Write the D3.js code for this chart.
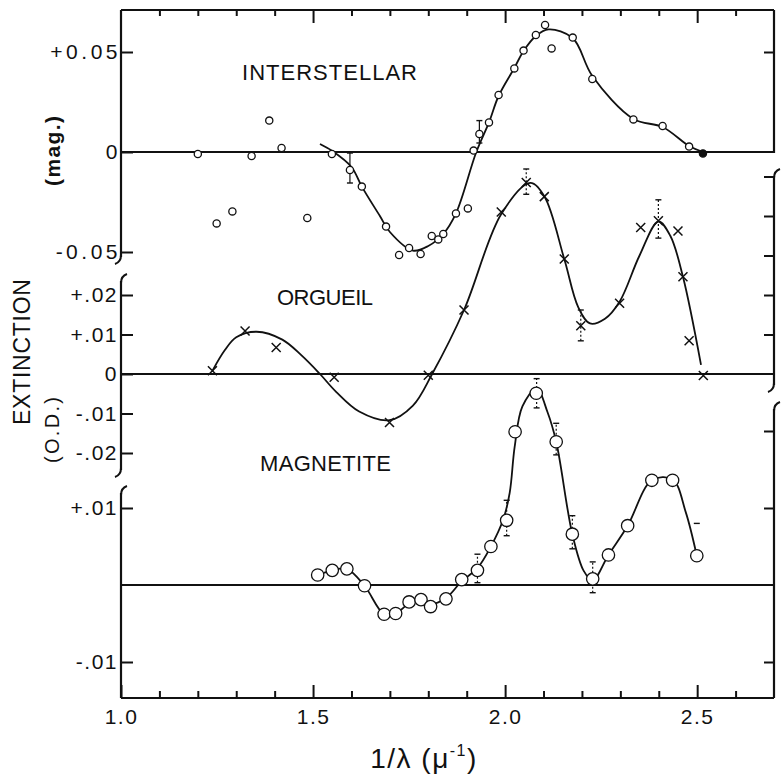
<!DOCTYPE html>
<html><head><meta charset="utf-8">
<script src="https://cdn.jsdelivr.net/npm/d3@7/dist/d3.min.js"></script>
<style>body{margin:0;background:#fff}</style>
</head><body>
<svg id="c" width="782" height="776"></svg>
<script>
// ---------------- DATA ----------------
const xMajorTicks = [1.0, 1.5, 2.0, 2.5];
const xTickLabels = ["1.0", "1.5", "2.0", "2.5"];
const xMinorTicks = [1.1,1.2,1.3,1.4,1.6,1.7,1.8,1.9,2.1,2.2,2.3,2.4,2.6];

const interTicks = [-0.05, 0, 0.05];
const interTickLabels = ["-0.05", "0", "+0.05"];
const interRightTicks = [0.05];
const orgTicks = [-0.02, -0.01, 0, 0.01, 0.02];
const orgTickLabels = ["-.02", "-.01", "0", "+.01", "+.02"];
const orgRightTicks = [0.01, 0.02, 0.03, 0.04, 0.05];
const magTicks = [-0.01, 0.01];
const magTickLabels = ["-.01", "+.01"];
const magRightTicks = [-0.01, 0.01, 0.02];

// Interstellar (mag.) observed points
const interPoints = [
  [1.20,-0.001],[1.249,-0.0357],[1.29,-0.0297],[1.34,-0.002],[1.386,0.0157],
  [1.418,0.002],[1.485,-0.033],[1.549,-0.001],[1.596,-0.009],[1.627,-0.0173],
  [1.69,-0.0373],[1.724,-0.0515],[1.75,-0.048],[1.78,-0.051],[1.809,-0.042],
  [1.826,-0.0437],[1.839,-0.041],[1.872,-0.0307],[1.903,-0.0282],[1.918,0.0007],
  [1.933,0.009],[1.958,0.0148],[1.983,0.0285],[2.024,0.0418],[2.048,0.0507],
  [2.08,0.0585],[2.104,0.0635],[2.121,0.0518],[2.176,0.0572],[2.227,0.0365],
  [2.334,0.0163],[2.41,0.013],[2.479,0.0027]
];
const interFilled = [[2.515,-0.0007]];
const interCurve = [
  [1.518,0.004],[1.55,0.0005],[1.60,-0.0075],[1.627,-0.0173],[1.674,-0.032],
  [1.70,-0.040],[1.76,-0.0493],[1.80,-0.047],[1.839,-0.041],[1.872,-0.0307],
  [1.925,0],[1.958,0.0148],[1.983,0.028],[2.024,0.042],[2.048,0.0505],
  [2.08,0.058],[2.113,0.0613],[2.176,0.057],[2.227,0.038],[2.334,0.0165],
  [2.41,0.0125],[2.479,0.003],[2.515,0]
];
const interErr = [[1.596,-0.0155,-0.0005],[1.933,0.0045,0.0157]];

// Orgueil (O.D.)
const orgPoints = [
  [1.238,0.0008],[1.323,0.0109],[1.404,0.0067],[1.555,-0.0008],[1.699,-0.0123],
  [1.80,-0.0003],[1.893,0.0162],[1.99,0.041],[2.055,0.0485],[2.102,0.0449],
  [2.154,0.0291],[2.197,0.0122],[2.298,0.0179],[2.353,0.0371],[2.399,0.0388],
  [2.45,0.0362],[2.463,0.0246],[2.479,0.0084],[2.516,-0.0004]
];
const orgCurve = [
  [1.238,0.0008],[1.27,0.006],[1.30,0.0093],[1.353,0.0107],[1.42,0.0087],
  [1.47,0.0047],[1.518,0],[1.56,-0.0045],[1.62,-0.0095],[1.699,-0.0117],
  [1.76,-0.008],[1.81,0],[1.893,0.0162],[1.99,0.0405],[2.065,0.0484],
  [2.102,0.045],[2.154,0.0291],[2.19,0.017],[2.221,0.0128],[2.26,0.014],
  [2.298,0.0183],[2.35,0.030],[2.399,0.0386],[2.43,0.035],[2.463,0.0246],
  [2.51,0.0023]
];
const orgErr = [[2.055,0.0455,0.0519],[2.197,0.0084,0.0162],[2.399,0.0344,0.0441]];

// Magnetite (O.D.)
const magPoints = [
  [1.512,0.0013],[1.55,0.0019],[1.588,0.0021],[1.634,-0.0001],[1.685,-0.0038],
  [1.715,-0.0037],[1.75,-0.0022],[1.781,-0.0019],[1.806,-0.0028],[1.846,-0.0018],
  [1.887,0.0007],[1.928,0.0019],[1.963,0.005],[2.004,0.0084],[2.026,0.0199],
  [2.081,0.0249],[2.133,0.0186],[2.175,0.0066],[2.228,0.0008],[2.269,0.0039],
  [2.319,0.0077],[2.382,0.0136],[2.436,0.0136],[2.499,0.0038]
];
const magCurve = [
  [1.512,0.0013],[1.55,0.0019],[1.588,0.0021],[1.634,-0.0001],[1.685,-0.0038],
  [1.715,-0.0037],[1.75,-0.0024],[1.781,-0.002],[1.806,-0.0025],[1.846,-0.0017],
  [1.887,0.0005],[1.928,0.0022],[1.963,0.005],[1.995,0.0085],[2.012,0.012],
  [2.025,0.018],[2.045,0.0232],[2.082,0.0255],[2.11,0.0225],[2.133,0.0186],
  [2.175,0.0066],[2.205,0.0018],[2.228,0.0006],[2.269,0.0039],[2.319,0.0077],
  [2.382,0.0136],[2.436,0.0137],[2.47,0.0095],[2.499,0.0038]
];
const magErr = [[1.928,0.0003,0.004],[2.004,0.0064,0.011],[2.082,0.023,0.0268],
  [2.133,0.0169,0.021],[2.175,0.0047,0.009],[2.228,-0.001,0.003]];
const magErrCapsOnly = [[2.499,0.0,0.008]];

// ---------------- LAYOUT ----------------
const L = 121, R = 774, T = 10, B = 698;
const svg = d3.select("#c");
const FONT = "'Liberation Sans', Arial, sans-serif";
const x = d3.scaleLinear().domain([1.0, 2.7]).range([L, R]);
const yI = d3.scaleLinear().domain([-0.05, 0.05]).range([252, 52]);
const yO = d3.scaleLinear().domain([-0.02, 0.02]).range([453, 295]);
const yM = d3.scaleLinear().domain([-0.01, 0.01]).range([662, 508]);

const ink = "#111";
const g = svg.append("g").attr("stroke", ink).attr("fill", "none");

g.append("line").attr("x1", L).attr("x2", R).attr("y1", T).attr("y2", T).attr("stroke-width", 2.2);
g.append("line").attr("x1", L).attr("x2", R).attr("y1", B).attr("y2", B).attr("stroke-width", 2.2);

// x ticks (inward) bottom and top
const xb = d3.axisBottom(x).tickValues(xMajorTicks).tickSize(-13).tickFormat((d,i)=>xTickLabels[i]).tickPadding(11);
const gxb = svg.append("g").attr("transform", `translate(0,${B})`).call(xb);
gxb.select(".domain").remove();
gxb.selectAll(".tick line").attr("stroke", ink).attr("stroke-width", 2);
gxb.selectAll(".tick text").attr("fill", ink).attr("font-family", FONT).attr("font-size", 21).style("letter-spacing", "1.5px");
const xbm = d3.axisBottom(x).tickValues(xMinorTicks).tickSize(-7).tickFormat("");
const gxbm = svg.append("g").attr("transform", `translate(0,${B})`).call(xbm);
gxbm.select(".domain").remove();
gxbm.selectAll(".tick line").attr("stroke", ink).attr("stroke-width", 2);

const xt = d3.axisTop(x).tickValues(xMajorTicks.slice(1)).tickSize(-13).tickFormat("");
const gxt = svg.append("g").attr("transform", `translate(0,${T})`).call(xt);
gxt.select(".domain").remove();
gxt.selectAll(".tick line").attr("stroke", ink).attr("stroke-width", 2);
const xtm = d3.axisTop(x).tickValues(xMinorTicks).tickSize(-6).tickFormat("");
const gxtm = svg.append("g").attr("transform", `translate(0,${T})`).call(xtm);
gxtm.select(".domain").remove();
gxtm.selectAll(".tick line").attr("stroke", ink).attr("stroke-width", 2);

// vertical axis segments
function vseg(xp, y1, y2){ g.append("line").attr("x1", xp).attr("x2", xp).attr("y1", y1).attr("y2", y2).attr("stroke-width", 2.2); }
vseg(L, T, 257); vseg(L, 281, 470); vseg(L, 493, B);
vseg(R, T, 153); vseg(R, 176, 385); vseg(R, 409, B);
function hookDown(xp, yp, dir){ g.append("path").attr("d", `M${xp},${yp-2} q0,7 ${-6*dir},9`).attr("stroke-width", 2); }
function hookUp(xp, yp, dir){ g.append("path").attr("d", `M${xp},${yp+2} q0,-7 ${6*dir},-9`).attr("stroke-width", 2); }
hookDown(L, 257, 1); hookUp(L, 281, 1);
hookDown(L, 470, 1); hookUp(L, 493, 1);
hookUp(R, 176, 1);
hookDown(R, 385, 1); hookUp(R, 409, 1);

// y axes
function leftAxis(scale, vals, labels, spacing, pad){
  const a = d3.axisLeft(scale).tickValues(vals).tickSize(-12).tickPadding(pad).tickFormat((d,i)=>labels[i]);
  const ga = svg.append("g").attr("transform", `translate(${L},0)`).call(a);
  ga.select(".domain").remove();
  ga.selectAll(".tick line").attr("stroke", ink).attr("stroke-width", 2);
  ga.selectAll(".tick text").attr("fill", ink).attr("font-family", FONT).attr("font-size", 21).style("letter-spacing", spacing + "px");
}
function rightAxis(scale, vals){
  const a = d3.axisRight(scale).tickValues(vals).tickSize(-10).tickFormat("");
  const ga = svg.append("g").attr("transform", `translate(${R},0)`).call(a);
  ga.select(".domain").remove();
  ga.selectAll(".tick line").attr("stroke", ink).attr("stroke-width", 2);
}
leftAxis(yI, interTicks, interTickLabels, 3.5, 0);
leftAxis(yO, orgTicks, orgTickLabels, 1.5, 3);
leftAxis(yM, magTicks, magTickLabels, 1.5, 3);
rightAxis(yI, interRightTicks);
rightAxis(yO, orgRightTicks);
rightAxis(yM, magRightTicks);

// zero lines
[yI, yO, yM].forEach(s => {
  g.append("line").attr("x1", L).attr("x2", R).attr("y1", s(0)).attr("y2", s(0)).attr("stroke-width", 1.8);
});

// curves
const lineFn = s => d3.line().x(d => x(d[0])).y(d => s(d[1])).curve(d3.curveCatmullRom.alpha(0.5));
g.append("path").attr("d", lineFn(yI)(interCurve)).attr("stroke-width", 1.8);
g.append("path").attr("d", lineFn(yO)(orgCurve)).attr("stroke-width", 1.8);
g.append("path").attr("d", lineFn(yM)(magCurve)).attr("stroke-width", 1.8);

// error bars
function errBars(data, s, dashed, drawLine){
  data.forEach(d => {
    const xp = x(d[0]), y1 = s(d[1]), y2 = s(d[2]);
    if (drawLine) g.append("line").attr("x1", xp).attr("x2", xp).attr("y1", y1).attr("y2", y2)
      .attr("stroke-width", 1.2).attr("stroke-dasharray", dashed ? "2,2" : null);
    [y1, y2].forEach(yy => g.append("line").attr("x1", xp-3).attr("x2", xp+3).attr("y1", yy).attr("y2", yy).attr("stroke-width", 1.4));
  });
}
errBars(interErr, yI, false, true);
errBars(orgErr, yO, true, true);
errBars(magErr, yM, true, true);
errBars(magErrCapsOnly, yM, true, false);

// markers
const mk = svg.append("g").attr("stroke", ink);
mk.selectAll("circle.i").data(interPoints).enter().append("circle")
  .attr("cx", d => x(d[0])).attr("cy", d => yI(d[1])).attr("r", 3.6)
  .attr("fill", "#fff").attr("stroke-width", 1.3);
mk.selectAll("circle.f").data(interFilled).enter().append("circle")
  .attr("cx", d => x(d[0])).attr("cy", d => yI(d[1])).attr("r", 3.6)
  .attr("fill", ink).attr("stroke-width", 1.3);
const cs = 4.5;
mk.selectAll("path.o").data(orgPoints).enter().append("path")
  .attr("d", d => { const px = x(d[0]), py = yO(d[1]);
    return `M${px-cs},${py-cs}L${px+cs},${py+cs}M${px-cs},${py+cs}L${px+cs},${py-cs}`; })
  .attr("stroke-width", 1.5).attr("fill", "none");
mk.selectAll("circle.m").data(magPoints).enter().append("circle")
  .attr("cx", d => x(d[0])).attr("cy", d => yM(d[1])).attr("r", 6.2)
  .attr("fill", "#fff").attr("stroke-width", 1.3);

// labels
const tx = svg.append("g").attr("fill", ink).attr("font-family", FONT);
tx.append("text").attr("x", 242).attr("y", 80).attr("font-size", 22).attr("textLength", 175).attr("lengthAdjust", "spacing").text("INTERSTELLAR");
tx.append("text").attr("x", 277).attr("y", 305).attr("font-size", 22).attr("textLength", 96).attr("lengthAdjust", "spacing").text("ORGUEIL");
tx.append("text").attr("x", 260).attr("y", 471).attr("font-size", 22).attr("textLength", 131).attr("lengthAdjust", "spacing").text("MAGNETITE");

tx.append("text").attr("transform", "translate(30,352) rotate(-90)").attr("text-anchor", "middle")
  .attr("font-size", 23).attr("textLength", 146).attr("lengthAdjust", "spacing").text("EXTINCTION");
tx.append("text").attr("transform", "translate(59,430) rotate(-90)").attr("text-anchor", "middle")
  .attr("font-size", 20).attr("textLength", 66).attr("lengthAdjust", "spacing").text("(O.D.)");
tx.append("text").attr("transform", "translate(60,151) rotate(-90)").attr("text-anchor", "middle")
  .attr("font-size", 21).attr("font-weight", "bold").attr("textLength", 70).attr("lengthAdjust", "spacing").text("(mag.)");

const xt2 = tx.append("text").attr("x", 424).attr("y", 768).attr("text-anchor", "middle").attr("font-size", 28).style("letter-spacing", "1.5px");
xt2.append("tspan").text("1/λ (μ");
xt2.append("tspan").attr("font-size", 16).attr("dy", -12).text("-1");
xt2.append("tspan").attr("dy", 12).text(")");
</script>
</body></html>
